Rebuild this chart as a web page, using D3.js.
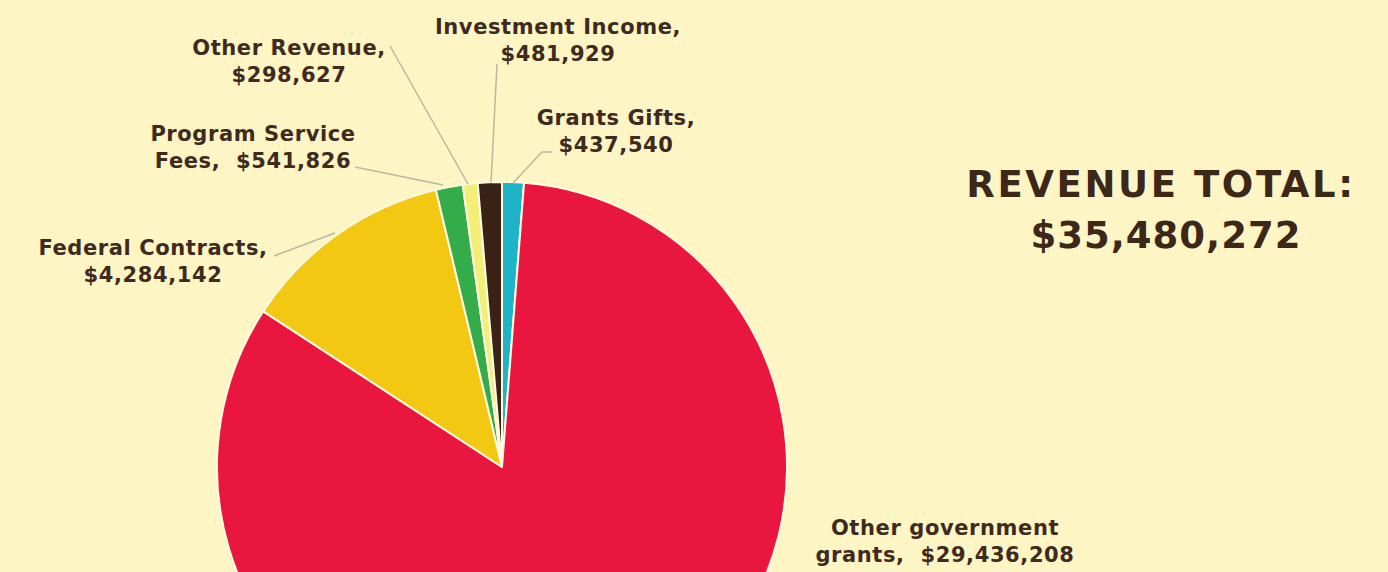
<!DOCTYPE html>
<html><head><meta charset="utf-8">
<script src="https://cdn.jsdelivr.net/npm/d3@7"></script>
<style>
html,body{margin:0;padding:0;background:#fdf5c4;}
svg{display:block;}
.lbl{font-family:"DejaVu Sans",sans-serif;font-weight:bold;fill:#3f2a20;letter-spacing:0.6px;}
.ttl{font-family:"DejaVu Sans",sans-serif;font-weight:bold;fill:#3d2718;}
</style></head>
<body>
<svg id="chart" width="1388" height="572"></svg>
<script>
const categories = ["Grants Gifts","Other government grants","Federal Contracts","Program Service Fees","Other Revenue","Investment Income"];
const values = [437540, 29436208, 4284142, 541826, 298627, 481929];
const colors = ["#1fb3c8","#e9173f","#f2c812","#35ac4a","#f3ee78","#3a2115"];
const labelLines = [
  ["Grants Gifts,","$437,540"],
  ["Other government","grants,  $29,436,208"],
  ["Federal Contracts,","$4,284,142"],
  ["Program Service","Fees,  $541,826"],
  ["Other Revenue,","$298,627"],
  ["Investment Income,","$481,929"]
];
const labelPos = [[616,125],[945,535],[153,255],[253,141],[289,55],[558,34]];
const leaders = [
  [[552,152],[542,152],[513,183]],
  null,
  [[274,256],[335,233]],
  [[355,167],[443,185]],
  [[390,46],[468,184]],
  [[497,64],[491,183]]
];
const total = "$35,480,272";

const svg = d3.select("#chart");
const cx = 502, cy = 467, R = 285;
const pie = d3.pie().sort(null).value(d=>d);
const arc = d3.arc().innerRadius(0).outerRadius(R);
const g = svg.append("g").attr("transform",`translate(${cx},${cy})`);
g.selectAll("path").data(pie(values)).enter().append("path")
  .attr("d",arc).attr("fill",(d,i)=>colors[i])
  .attr("stroke","#fffbe0").attr("stroke-width",2).attr("stroke-linejoin","round");

const line = d3.line();
leaders.forEach(l=>{ if(l) svg.append("path").attr("d",line(l)).attr("fill","none").attr("stroke","#bdb7a0").attr("stroke-width",1.5); });

labelLines.forEach((ls,i)=>{
  const t = svg.append("text").attr("class","lbl").attr("text-anchor","middle").attr("font-size",21)
    .attr("x",labelPos[i][0]).attr("y",labelPos[i][1]);
  ls.forEach((s,j)=>t.append("tspan").attr("x",labelPos[i][0]).attr("dy",j?27:0).attr("xml:space","preserve").text(s));
});

const tt = svg.append("text").attr("class","ttl").attr("text-anchor","middle").attr("font-size",37);
tt.append("tspan").attr("x",1161).attr("y",197).attr("letter-spacing","2.6px").text("REVENUE TOTAL:");
tt.append("tspan").attr("x",1166).attr("y",248).attr("letter-spacing","1px").text(total);
</script>
</body></html>
